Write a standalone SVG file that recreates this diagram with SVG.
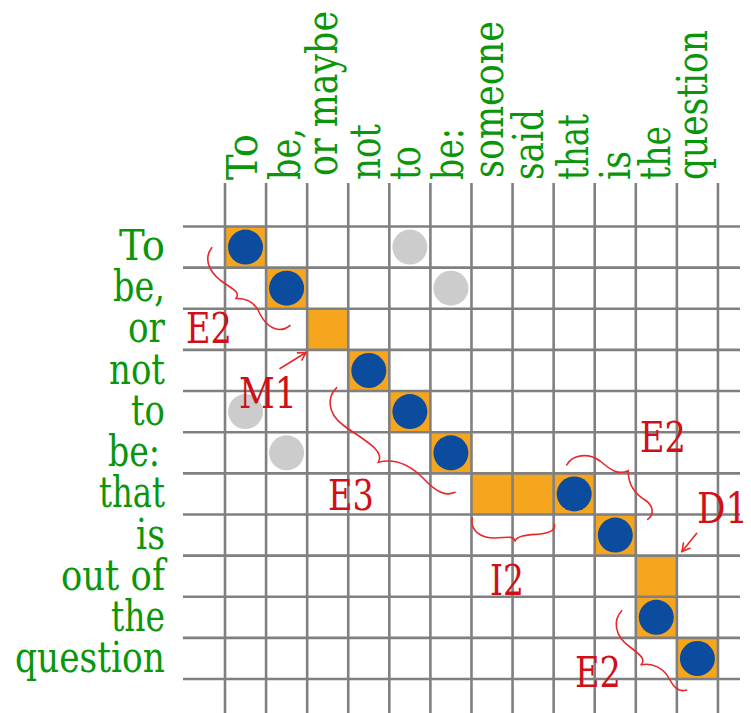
<svg xmlns="http://www.w3.org/2000/svg" width="751" height="713" viewBox="0 0 751 713">
<defs>
<style>
.g{stroke:#808080;stroke-width:2.6;fill:none}
.o{fill:#F6A61E}
.b{fill:#0B4C9F}
.c{fill:#CCCCCC}
.lbl{font-size:42px;fill:#0A960A}
.red{font-size:42px;fill:#D01018}
.br{fill:none;stroke:#E8282B;stroke-width:1.6;stroke-linecap:round}
</style>
<marker id="ah" markerWidth="12" markerHeight="12" refX="9" refY="5" orient="auto" markerUnits="userSpaceOnUse">
<path d="M1,0.5 L9,5 L1,9.5" fill="none" stroke="#E8282B" stroke-width="1.6"/>
</marker>
</defs>
<rect width="751" height="713" fill="#FFFFFF"/>

<g id="cells">
<rect class="o" x="225" y="226.5" width="41.08" height="41.14"/>
<rect class="o" x="266.08" y="267.64" width="41.08" height="41.14"/>
<rect class="o" x="307.16" y="308.78" width="41.08" height="41.14"/>
<rect class="o" x="348.24" y="349.92" width="41.08" height="41.14"/>
<rect class="o" x="389.32" y="391.06" width="41.08" height="41.14"/>
<rect class="o" x="430.4" y="432.2" width="41.08" height="41.14"/>
<rect class="o" x="471.48" y="473.34" width="41.08" height="41.14"/>
<rect class="o" x="512.56" y="473.34" width="41.08" height="41.14"/>
<rect class="o" x="553.64" y="473.34" width="41.08" height="41.14"/>
<rect class="o" x="594.72" y="514.48" width="41.08" height="41.14"/>
<rect class="o" x="635.8" y="555.62" width="41.08" height="41.14"/>
<rect class="o" x="635.8" y="596.76" width="41.08" height="41.14"/>
<rect class="o" x="676.88" y="637.9" width="41.08" height="41.14"/>
</g>

<g id="grid">
<path class="g" d="M225,183V713M266.08,183V713M307.16,183V713M348.24,183V713M389.32,183V713M430.4,183V713M471.48,183V713M512.56,183V713M553.64,183V713M594.72,183V713M635.8,183V713M676.88,183V713M717.96,183V713"/>
<path class="g" d="M183,226.5H740M183,267.64H740M183,308.78H740M183,349.92H740M183,391.06H740M183,432.2H740M183,473.34H740M183,514.48H740M183,555.62H740M183,596.76H740M183,637.9H740M183,679.04H740"/>
</g>

<g id="dots">
<circle class="b" cx="245.5" cy="247.1" r="17.5"/>
<circle class="b" cx="286.6" cy="288.2" r="17.5"/>
<circle class="b" cx="368.8" cy="370.5" r="17.5"/>
<circle class="b" cx="409.9" cy="411.6" r="17.5"/>
<circle class="b" cx="450.9" cy="452.8" r="17.5"/>
<circle class="b" cx="574.2" cy="493.9" r="17.5"/>
<circle class="b" cx="615.3" cy="535.1" r="17.5"/>
<circle class="b" cx="656.3" cy="617.3" r="17.5"/>
<circle class="b" cx="697.4" cy="658.5" r="17.5"/>
<circle class="c" cx="409.9" cy="247.1" r="17.5"/>
<circle class="c" cx="450.9" cy="288.2" r="17.5"/>
<circle class="c" cx="245.5" cy="411.6" r="17.5"/>
<circle class="c" cx="286.6" cy="452.8" r="17.5"/>
</g>

<g id="row-labels" class="lbl" font-family="'DejaVu Serif', 'Liberation Serif', serif" text-anchor="end">
<text x="165" y="260" textLength="46" lengthAdjust="spacingAndGlyphs">To</text>
<text x="165" y="301" textLength="52" lengthAdjust="spacingAndGlyphs">be,</text>
<text x="165" y="342" textLength="37" lengthAdjust="spacingAndGlyphs">or</text>
<text x="165" y="383.5" textLength="56" lengthAdjust="spacingAndGlyphs">not</text>
<text x="165" y="424.5" textLength="34" lengthAdjust="spacingAndGlyphs">to</text>
<text x="160" y="465.5" textLength="52" lengthAdjust="spacingAndGlyphs">be:</text>
<text x="165" y="507" textLength="66" lengthAdjust="spacingAndGlyphs">that</text>
<text x="165" y="548.5" textLength="29" lengthAdjust="spacingAndGlyphs">is</text>
<text x="165" y="589.5" textLength="104" lengthAdjust="spacingAndGlyphs">out of</text>
<text x="165" y="630.5" textLength="54" lengthAdjust="spacingAndGlyphs">the</text>
<text x="165" y="671.5" textLength="150" lengthAdjust="spacingAndGlyphs">question</text>
</g>

<g id="col-labels" class="lbl" font-family="'DejaVu Serif', 'Liberation Serif', serif">
<text transform="translate(257,180) rotate(-90)" textLength="46" lengthAdjust="spacingAndGlyphs">To</text>
<text transform="translate(300,180) rotate(-90)" textLength="52" lengthAdjust="spacingAndGlyphs">be,</text>
<text transform="translate(337,176) rotate(-90)" textLength="165" lengthAdjust="spacingAndGlyphs">or maybe</text>
<text transform="translate(380,180) rotate(-90)" textLength="56" lengthAdjust="spacingAndGlyphs">not</text>
<text transform="translate(420,180) rotate(-90)" textLength="34" lengthAdjust="spacingAndGlyphs">to</text>
<text transform="translate(463,180) rotate(-90)" textLength="52" lengthAdjust="spacingAndGlyphs">be:</text>
<text transform="translate(503,178) rotate(-90)" textLength="157" lengthAdjust="spacingAndGlyphs">someone</text>
<text transform="translate(543,180) rotate(-90)" textLength="71" lengthAdjust="spacingAndGlyphs">said</text>
<text transform="translate(588,180) rotate(-90)" textLength="66" lengthAdjust="spacingAndGlyphs">that</text>
<text transform="translate(630,180) rotate(-90)" textLength="29" lengthAdjust="spacingAndGlyphs">is</text>
<text transform="translate(670,180) rotate(-90)" textLength="54" lengthAdjust="spacingAndGlyphs">the</text>
<text transform="translate(707,180) rotate(-90)" textLength="150" lengthAdjust="spacingAndGlyphs">question</text>
</g>

<g id="connectors">
<path class="br" d="M211.7,247.7 C204,258 208,270 220,280 C232,289 241,292 236,298.5 C248,298 256,304 260,314 C266,326 278,335 290,325.5"/>
<path class="br" d="M336.7,387.7 C328,396 326,412 343,425 C360,438 386,450 378.3,462.3 C395,458 410,465 423,478 C435,491 445,497 455,492.3"/>
<path class="br" d="M472.3,518.3 C470,530 480,538 495,538 C505,538 513,535 515,540.7 C518,535 528,535 540,534 C550,533 556,530 554.3,524"/>
<path class="br" d="M566.7,465 C572,455 588,452 600,461 C612,471 618,475 628.3,470.7 C628,482 632,492 645,500 C654,506 654,515 647.7,519.3"/>
<path class="br" d="M621.7,610.7 C613,620 614,636 630,647 C642,656 646,660 640.7,665 C652,662 664,668 670,680 C674,688 680,692 686.7,690"/>
<path class="br" d="M280,368.5 L306,352.5" marker-end="url(#ah)"/>
<path class="br" d="M696.7,533.3 L682,551.5" marker-end="url(#ah)"/>
</g>

<g id="annotations" class="red" font-family="'DejaVu Serif', 'Liberation Serif', serif">
<text x="186" y="343" textLength="46" lengthAdjust="spacingAndGlyphs">E2</text>
<text x="239" y="408" textLength="58" lengthAdjust="spacingAndGlyphs">M1</text>
<text x="328" y="510" textLength="46" lengthAdjust="spacingAndGlyphs">E3</text>
<text x="640" y="452" textLength="46" lengthAdjust="spacingAndGlyphs">E2</text>
<text x="697" y="523" textLength="51" lengthAdjust="spacingAndGlyphs">D1</text>
<text x="490" y="595" textLength="34" lengthAdjust="spacingAndGlyphs">I2</text>
<text x="575" y="687" textLength="46" lengthAdjust="spacingAndGlyphs">E2</text>
</g>
</svg>
